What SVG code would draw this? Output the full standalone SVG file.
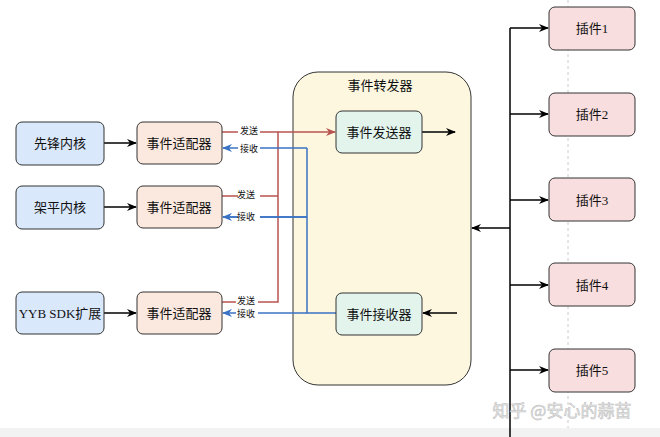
<svg xmlns="http://www.w3.org/2000/svg" width="660" height="437" viewBox="0 0 660 437">
<defs>
<marker id="ak" markerWidth="10" markerHeight="8" refX="9" refY="4" orient="auto" markerUnits="userSpaceOnUse"><path d="M0,0 L10,4 L0,8 L3,4 Z" fill="#000"/></marker>
<marker id="ar" markerWidth="10" markerHeight="8" refX="9" refY="4" orient="auto" markerUnits="userSpaceOnUse"><path d="M0,0 L10,4 L0,8 L3,4 Z" fill="#b85450"/></marker>
<marker id="ab" markerWidth="10" markerHeight="8" refX="9" refY="4" orient="auto" markerUnits="userSpaceOnUse"><path d="M0,0 L10,4 L0,8 L3,4 Z" fill="#3a72c4"/></marker>
</defs>
<style>
text{font-family:"Liberation Serif","Noto Sans CJK SC",serif;font-size:13px;fill:#111;text-anchor:middle;dominant-baseline:central}
.sm{font-size:9px}
.core{fill:#dae8fc;stroke:#333;stroke-width:1}
.ad{fill:#fbe9e0;stroke:#333;stroke-width:1}
.ev{fill:#e2f4ec;stroke:#333;stroke-width:1}
.pl{fill:#f8dede;stroke:#333;stroke-width:1}
.k{stroke:#000;stroke-width:1.5;fill:none}
.r{stroke:#b85450;stroke-width:1.5;fill:none}
.b{stroke:#3a72c4;stroke-width:1.5;fill:none}
</style>
<rect width="660" height="437" fill="#fff"/>
<rect x="0" y="428" width="660" height="9" fill="#f2f2f2"/>
<line x1="568" y1="0" x2="568" y2="428" stroke="#ccc" stroke-dasharray="3,3"/>
<g id="forwarder"><rect x="293" y="72" width="178" height="313" rx="25" fill="#fdf7e0" stroke="#333"/><text x="380" y="85">事件转发器</text></g>
<g id="connectors">
<line class="k" x1="104" y1="143" x2="136" y2="143" marker-end="url(#ak)"/>
<line class="k" x1="104" y1="207" x2="136" y2="207" marker-end="url(#ak)"/>
<line class="k" x1="104" y1="313" x2="136" y2="313" marker-end="url(#ak)"/>
<path class="r" d="M222,132 H278 V302 H222 M222,196 H278"/>
<line class="r" x1="278" y1="132" x2="335" y2="132" marker-end="url(#ar)"/>
<path class="b" d="M336,313 H307 V148 M307,217 H223"/>
<line class="b" x1="307" y1="148" x2="223" y2="148" marker-end="url(#ab)"/>
<line class="b" x1="307" y1="217" x2="223" y2="217" marker-end="url(#ab)"/>
<line class="b" x1="307" y1="313" x2="223" y2="313" marker-end="url(#ab)"/>
<line class="k" x1="422" y1="132" x2="455" y2="132" marker-end="url(#ak)"/>
<line class="k" x1="457" y1="313" x2="423" y2="313" marker-end="url(#ak)"/>
<line class="k" x1="510" y1="28" x2="510" y2="437"/>
<line class="k" x1="510" y1="228" x2="472" y2="228" marker-end="url(#ak)"/>
<line class="k" x1="510" y1="28" x2="548" y2="28" marker-end="url(#ak)"/>
<line class="k" x1="510" y1="114" x2="548" y2="114" marker-end="url(#ak)"/>
<line class="k" x1="510" y1="200" x2="548" y2="200" marker-end="url(#ak)"/>
<line class="k" x1="510" y1="285" x2="548" y2="285" marker-end="url(#ak)"/>
<line class="k" x1="510" y1="370" x2="548" y2="370" marker-end="url(#ak)"/>
<g class="sm"><rect x="238" y="126" width="22" height="11" fill="#fff"/><text class="sm" x="249" y="131">发送</text>
<rect x="238" y="143" width="22" height="11" fill="#fff"/><text class="sm" x="249" y="149">接收</text>
<rect x="238" y="190" width="22" height="11" fill="#fff"/><text class="sm" x="246" y="195">发送</text>
<rect x="238" y="211" width="22" height="11" fill="#fff"/><text class="sm" x="246" y="217">接收</text>
<rect x="236" y="296" width="22" height="11" fill="#fff"/><text class="sm" x="246" y="301">发送</text>
<rect x="236" y="308" width="22" height="11" fill="#fff"/><text class="sm" x="246" y="314">接收</text></g>
</g>
<g id="core1"><rect class="core" x="16" y="122" width="88" height="43" rx="6"/><text x="60" y="143">先锋内核</text></g>
<g id="core2"><rect class="core" x="16" y="186" width="88" height="43" rx="6"/><text x="60" y="207">架平内核</text></g>
<g id="core3"><rect class="core" x="16" y="292" width="88" height="42" rx="6"/><text x="60" y="313">YYB SDK扩展</text></g>
<g id="ad1"><rect class="ad" x="137" y="122" width="85" height="42" rx="6"/><text x="179" y="143">事件适配器</text></g>
<g id="ad2"><rect class="ad" x="137" y="186" width="85" height="42" rx="6"/><text x="179" y="207">事件适配器</text></g>
<g id="ad3"><rect class="ad" x="137" y="292" width="85" height="42" rx="6"/><text x="179" y="313">事件适配器</text></g>
<g id="sender"><rect class="ev" x="336" y="111" width="86" height="42" rx="6"/><text x="379" y="132">事件发送器</text></g>
<g id="receiver"><rect class="ev" x="336" y="293" width="86" height="42" rx="6"/><text x="379" y="314">事件接收器</text></g>
<g id="p1"><rect class="pl" x="549" y="7" width="86" height="43" rx="6"/><text x="592" y="28">插件1</text></g>
<g id="p2"><rect class="pl" x="549" y="93" width="86" height="43" rx="6"/><text x="592" y="114">插件2</text></g>
<g id="p3"><rect class="pl" x="549" y="178" width="86" height="43" rx="6"/><text x="592" y="200">插件3</text></g>
<g id="p4"><rect class="pl" x="549" y="263" width="86" height="43" rx="6"/><text x="592" y="285">插件4</text></g>
<g id="p5"><rect class="pl" x="549" y="349" width="86" height="43" rx="6"/><text x="592" y="370">插件5</text></g>
<text x="562" y="409" style="font-size:17px;fill:#e8e8e8;stroke:#bbb;stroke-width:0.5;font-family:'Noto Sans CJK SC',sans-serif">知乎 @安心的蒜苗</text>
</svg>
